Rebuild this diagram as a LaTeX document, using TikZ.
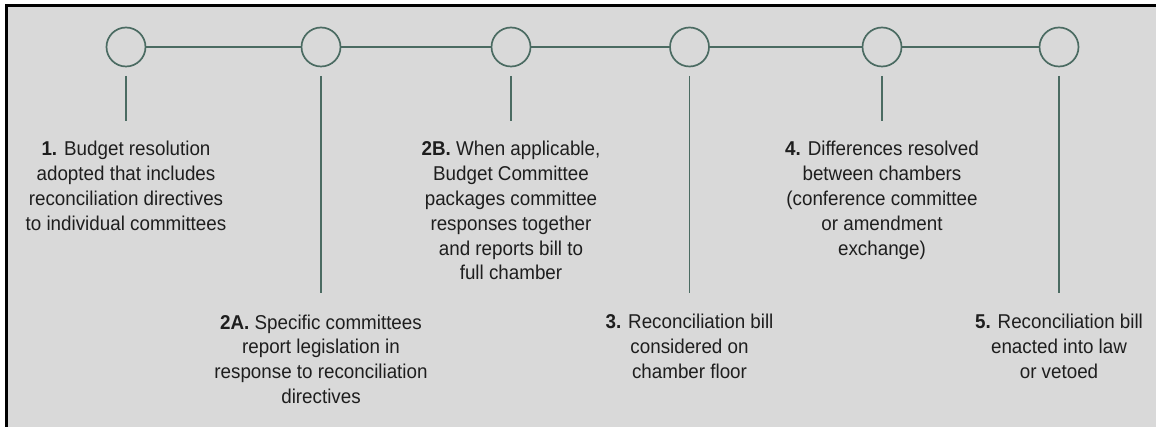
\documentclass[tikz,border=0pt]{standalone}
\usepackage{fontspec}
\setmainfont{Liberation Sans}[FakeStretch=0.94]
\definecolor{bggray}{HTML}{D9D9D9}
\definecolor{tlgreen}{HTML}{4B6B62}
\definecolor{txtcol}{HTML}{1E1E1E}
\begin{document}
\begin{tikzpicture}[x=1pt,y=-1pt,
  stepcircle/.style={circle,draw=tlgreen,line width=1.7pt,minimum size=39pt,inner sep=0pt},
  link/.style={draw=tlgreen,line width=1.7pt},
  steplabel/.style={anchor=base,align=center,text=txtcol,inner sep=0pt,
    font=\fontsize{20}{24.8}\selectfont}]
\useasboundingbox (0,0) rectangle (1156,427);
\fill[white] (0,0) rectangle (1156,427);
\fill[bggray] (6.5,5.5) rectangle (1156,427);
\draw[black,line width=3pt] (6.5,427) -- (6.5,5.5) -- (1156,5.5);
% circles
\node[stepcircle] (c1) at (126,47) {};
\node[stepcircle] (c2) at (321,47) {};
\node[stepcircle] (c3) at (511,47) {};
\node[stepcircle] (c4) at (689.5,47) {};
\node[stepcircle] (c5) at (882,47) {};
\node[stepcircle] (c6) at (1059,47) {};
\draw[link] (c1) -- (c2);
\draw[link] (c2) -- (c3);
\draw[link] (c3) -- (c4);
\draw[link] (c4) -- (c5);
\draw[link] (c5) -- (c6);
% vertical ticks
\coordinate (v1a) at (126,76);   \coordinate (v1b) at (126,121);
\coordinate (v2a) at (321,76);   \coordinate (v2b) at (321,293);
\coordinate (v3a) at (511,76);   \coordinate (v3b) at (511,121);
\coordinate (v4a) at (689.5,76); \coordinate (v4b) at (689.5,293);
\coordinate (v5a) at (882,76);   \coordinate (v5b) at (882,121);
\coordinate (v6a) at (1059,76);  \coordinate (v6b) at (1059,293);
\draw[link] (v1a) -- (v1b);
\draw[link] (v2a) -- (v2b);
\draw[link] (v3a) -- (v3b);
\draw[link] (v4a) -- (v4b);
\draw[link] (v5a) -- (v5b);
\draw[link] (v6a) -- (v6b);
% labels (base anchor = baseline of the last line)
\node[steplabel] (t1) at (126,230.4) {\textbf{1.} Budget resolution\\adopted that includes\\reconciliation directives\\to individual committees};
\node[steplabel] (t2a) at (321,403.4) {\textbf{2A.} Specific committees\\report legislation in\\response to reconciliation\\directives};
\node[steplabel] (t2b) at (511,280) {\textbf{2B.} When applicable,\\Budget Committee\\packages committee\\responses together\\and reports bill to\\full chamber};
\node[steplabel] (t3) at (689.5,378.6) {\textbf{3.} Reconciliation bill\\considered on\\chamber floor};
\node[steplabel] (t4) at (882,255.2) {\textbf{4.} Differences resolved\\between chambers\\(conference committee\\or amendment\\exchange)};
\node[steplabel] (t5) at (1059,378.6) {\textbf{5.} Reconciliation bill\\enacted into law\\or vetoed};
\end{tikzpicture}
\end{document}
